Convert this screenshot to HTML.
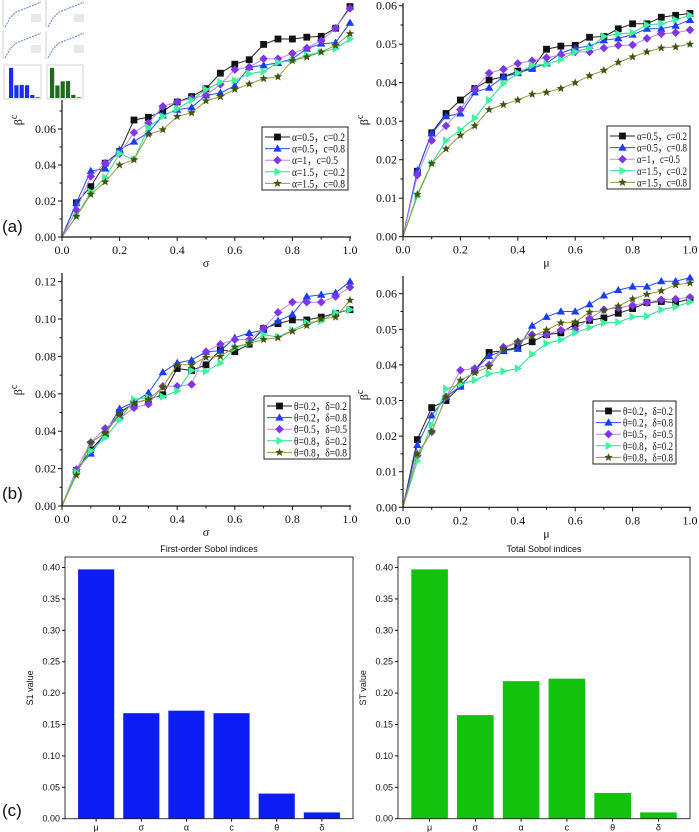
<!DOCTYPE html>
<html><head><meta charset="utf-8">
<style>
html,body{margin:0;padding:0;background:#fff;}
svg{display:block;}
.tk{font-family:"Liberation Serif",serif;font-size:12px;fill:#111;}
.lg{font-family:"Liberation Serif",serif;font-size:11.5px;fill:#111;}
.mp{font-family:"Liberation Sans",sans-serif;font-size:9px;fill:#111;}
.pl{font-family:"Liberation Sans",sans-serif;font-size:17px;fill:#111;}
</style></head>
<body>
<svg id="fig" width="699" height="832" viewBox="0 0 699 832" xmlns="http://www.w3.org/2000/svg"></svg>
<script>
// ---- data ----
const xVals = [0,0.05,0.1,0.15,0.2,0.25,0.3,0.35,0.4,0.45,0.5,0.55,0.6,0.65,0.7,0.75,0.8,0.85,0.9,0.95,1.0];
const xTicks = [0,0.2,0.4,0.6,0.8,1.0];
const legendA = ["α=0.5，c=0.2","α=0.5，c=0.8","α=1，c=0.5","α=1.5，c=0.2","α=1.5，c=0.8"];
const legendB = ["θ=0.2，δ=0.2","θ=0.2，δ=0.8","θ=0.5，δ=0.5","θ=0.8，δ=0.2","θ=0.8，δ=0.8"];

const aSig1 = [0,0.019,0.028,0.041,0.0475,0.065,0.0665,0.070,0.075,0.078,0.0824,0.091,0.096,0.0985,0.107,0.110,0.110,0.111,0.1115,0.116,0.128];
const aSig2 = [0,0.019,0.0367,0.038,0.0485,0.053,0.058,0.0675,0.0707,0.072,0.0787,0.080,0.084,0.0944,0.0954,0.0967,0.099,0.1046,0.1074,0.108,0.119];
const aSig3 = [0,0.015,0.0337,0.041,0.0463,0.058,0.0633,0.0726,0.075,0.077,0.0787,0.0848,0.093,0.0944,0.099,0.099,0.102,0.105,0.109,0.116,0.127];
const aSig4 = [0,0.0115,0.025,0.033,0.0463,0.043,0.0607,0.067,0.0713,0.076,0.0819,0.086,0.087,0.0907,0.092,0.097,0.098,0.101,0.1028,0.1046,0.110];
const aSig5 = [0,0.0115,0.0237,0.0306,0.040,0.043,0.057,0.0596,0.067,0.069,0.0756,0.078,0.082,0.085,0.088,0.089,0.098,0.100,0.1028,0.1065,0.113];

const aMu1 = [0,0.017,0.027,0.032,0.0355,0.0385,0.0407,0.0415,0.043,0.0437,0.0487,0.0495,0.0497,0.0518,0.052,0.054,0.0553,0.0553,0.057,0.0575,0.058];
const aMu2 = [0,0.0172,0.0268,0.0313,0.032,0.0375,0.0387,0.0415,0.0425,0.0437,0.045,0.0477,0.049,0.0495,0.051,0.0515,0.0525,0.054,0.054,0.0548,0.0563];
const aMu3 = [0,0.016,0.025,0.0288,0.033,0.0383,0.0425,0.0435,0.045,0.0457,0.0465,0.0472,0.048,0.048,0.049,0.0497,0.0498,0.0515,0.0527,0.053,0.0537];
const aMu4 = [0,0.0105,0.019,0.025,0.0277,0.0308,0.0355,0.0398,0.0425,0.0445,0.0448,0.046,0.048,0.049,0.052,0.0527,0.053,0.055,0.0553,0.0563,0.0575];
const aMu5 = [0,0.011,0.019,0.0228,0.0263,0.0288,0.033,0.0343,0.0355,0.037,0.0375,0.0385,0.040,0.0418,0.0432,0.0453,0.0467,0.048,0.049,0.0493,0.050];

const bSig1 = [0,0.019,0.030,0.0385,0.050,0.055,0.057,0.0595,0.0735,0.0725,0.0755,0.0835,0.0825,0.0865,0.095,0.0975,0.0995,0.0995,0.101,0.103,0.105];
const bSig2 = [0,0.0195,0.028,0.039,0.052,0.0555,0.0605,0.0715,0.0765,0.078,0.0825,0.083,0.090,0.0925,0.094,0.099,0.1025,0.112,0.113,0.114,0.120];
const bSig3 = [0,0.0195,0.034,0.0415,0.047,0.0525,0.0545,0.064,0.064,0.065,0.0825,0.0865,0.089,0.089,0.095,0.1035,0.109,0.109,0.109,0.112,0.117];
const bSig4 = [0,0.018,0.0295,0.0365,0.046,0.057,0.058,0.0585,0.0615,0.0725,0.072,0.0765,0.0845,0.087,0.0915,0.0905,0.094,0.098,0.099,0.1035,0.105];
const bSig5 = [0,0.0165,0.034,0.039,0.049,0.055,0.057,0.0635,0.0755,0.0755,0.0795,0.080,0.085,0.087,0.089,0.090,0.0935,0.0965,0.100,0.101,0.110];

const bMu1 = [0,0.019,0.028,0.030,0.034,0.0385,0.0435,0.044,0.045,0.0465,0.0485,0.049,0.0515,0.0525,0.0532,0.0545,0.0558,0.0575,0.0578,0.0575,0.0585];
const bMu2 = [0,0.0175,0.0258,0.031,0.034,0.0385,0.0425,0.044,0.0445,0.051,0.0535,0.055,0.055,0.057,0.0595,0.061,0.062,0.062,0.0635,0.0635,0.0645];
const bMu3 = [0,0.0145,0.0212,0.031,0.0385,0.039,0.040,0.045,0.0465,0.0485,0.0485,0.0498,0.050,0.053,0.0555,0.056,0.0567,0.0575,0.0583,0.0585,0.059];
const bMu4 = [0,0.013,0.0232,0.0333,0.0345,0.0357,0.0375,0.0382,0.039,0.043,0.046,0.047,0.049,0.0505,0.0518,0.052,0.0535,0.0537,0.0555,0.0563,0.0577];
const bMu5 = [0,0.015,0.0213,0.031,0.0357,0.0378,0.0395,0.0445,0.0465,0.048,0.0498,0.0518,0.052,0.0548,0.0553,0.0565,0.0585,0.0598,0.0608,0.0625,0.063];

const sobolCats = ["μ","σ","α","c","θ","δ"];
const s1Values = [0.397,0.168,0.172,0.168,0.040,0.010];
const stValues = [0.397,0.165,0.219,0.223,0.041,0.010];
const barTicks = [0,0.05,0.10,0.15,0.20,0.25,0.30,0.35,0.40];
const ticksA1 = [0,0.02,0.04,0.06,0.08,0.10,0.12];
const ticksA2 = [0,0.01,0.02,0.03,0.04,0.05,0.06];
const ticksB1 = [0,0.02,0.04,0.06,0.08,0.10,0.12];
const ticksB2 = [0,0.01,0.02,0.03,0.04,0.05,0.06];

// ---- drawing ----
const NS="http://www.w3.org/2000/svg";
const svg=document.getElementById('fig');
function mk(tag,attrs,parent){const e=document.createElementNS(NS,tag);for(const k in attrs)e.setAttribute(k,attrs[k]);(parent||svg).appendChild(e);return e;}
const styles=[
 {line:'#222',fill:'#111',shape:'square'},
 {line:'#2a4cff',fill:'#1a3cff',shape:'tri'},
 {line:'#b58af5',fill:'#7f36e8',shape:'diamond'},
 {line:'#30d898',fill:'#3cf5a0',shape:'tright'},
 {line:'#9a9a3a',fill:'#3f5510',shape:'star'}];
function marker(g,shape,x,y,fill){
  const s=3.4;let e;
  if(shape==='square')e=mk('rect',{x:x-s,y:y-s,width:2*s,height:2*s,fill:fill},g);
  else if(shape==='tri')e=mk('polygon',{points:`${x},${y-4.2} ${x+4.2},${y+3} ${x-4.2},${y+3}`,fill:fill},g);
  else if(shape==='diamond')e=mk('polygon',{points:`${x},${y-4.3} ${x+4.3},${y} ${x},${y+4.3} ${x-4.3},${y}`,fill:fill},g);
  else if(shape==='tright')e=mk('polygon',{points:`${x-3},${y-4.2} ${x+4.2},${y} ${x-3},${y+4.2}`,fill:fill},g);
  else{let p=[];for(let i=0;i<10;i++){const r=i%2?1.9:4.4;const a=-Math.PI/2+i*Math.PI/5;p.push((x+r*Math.cos(a)).toFixed(1)+','+(y+r*Math.sin(a)).toFixed(1));}
    e=mk('polygon',{points:p.join(' '),fill:fill},g);}
  return e;
}
function linePanel(id,cfg,series,ticks,legend,xname){
  const g=mk('g',{});
  
  
  const X=v=>cfg.x0+(cfg.x1-cfg.x0)*v;
  const Y=v=>cfg.y0-cfg.k*v;
  series.forEach((arr,si)=>{
    const st=styles[si];
    const sg=mk('g',{},g);
    
    
    mk('polyline',{points:arr.map((v,i)=>X(xVals[i]).toFixed(1)+','+Y(v).toFixed(1)).join(' '),fill:'none',stroke:st.line,'stroke-width':1},sg);
    arr.forEach((v,i)=>{if(i>0){const m=marker(sg,st.shape,X(xVals[i]),Y(v),st.fill);}});
  });
  const ax=mk('g',{},g);
  
  
  mk('line',{x1:cfg.x0,y1:cfg.y0,x2:cfg.x1+1,y2:cfg.y0,stroke:'#111','stroke-width':1.2},ax);
  mk('line',{x1:cfg.x0,y1:cfg.y0,x2:cfg.x0,y2:cfg.top,stroke:'#111','stroke-width':1.2},ax);
  xTicks.forEach(t=>{mk('line',{x1:X(t),y1:cfg.y0,x2:X(t),y2:cfg.y0+4,stroke:'#111'},ax);
    const tx=mk('text',{x:X(t),y:cfg.y0+17,'text-anchor':'middle',class:'tk'},ax);tx.textContent=t.toFixed(1);
    });
  for(let t=0.1;t<1;t+=0.2){mk('line',{x1:X(t),y1:cfg.y0,x2:X(t),y2:cfg.y0+2.5,stroke:'#111'},ax);}
  ticks.forEach((t,i)=>{const y=Y(t);if(y<cfg.top-1)return;
    mk('line',{x1:cfg.x0-4,y1:y,x2:cfg.x0,y2:y,stroke:'#111'},ax);
    const tx=mk('text',{x:cfg.x0-6,y:y+4,'text-anchor':'end',class:'tk'},ax);tx.textContent=t.toFixed(2);
    
    if(i<ticks.length-1){const ym=Y((t+ticks[i+1])/2);if(ym>=cfg.top)mk('line',{x1:cfg.x0-2.5,y1:ym,x2:cfg.x0,y2:ym,stroke:'#111'},ax);}
  });
  const xl=mk('text',{x:(cfg.x0+cfg.x1)/2,y:cfg.y0+30,'text-anchor':'middle',class:'tk','font-size':'13'},g);xl.textContent=xname;
  
  const yl=mk('text',{x:0,y:0,transform:`translate(${cfg.ylx},${cfg.ylab}) rotate(-90)`,'text-anchor':'middle',class:'tk','font-size':'14'},g);
  yl.textContent='β';const sup=mk('tspan',{dy:-5,'font-size':'10'},yl);sup.textContent='c';
  
  const lg=mk('g',{},g);
  
  
  mk('rect',{x:cfg.lx,y:cfg.ly,width:cfg.lw,height:63,fill:'#fff',stroke:'#222','stroke-width':1},lg);
  legend.forEach((name,i)=>{const y=cfg.ly+10+i*11.6;const st=styles[i];
    const e=mk('g',{},lg);
    
    
    mk('line',{x1:cfg.lx+3,y1:y,x2:cfg.lx+28,y2:y,stroke:st.line},e);
    marker(e,st.shape,cfg.lx+15.5,y,st.fill);
    const len=name.length<11?(cfg.lw-40):(cfg.lw-33);
    const t=mk('text',{x:cfg.lx+30,y:y+4,class:'lg',textLength:len,lengthAdjust:'spacingAndGlyphs'},e);t.textContent=name;});
}
linePanel('chart-a-sigma',{x0:62,x1:350,y0:237,k:1800,top:2,ylab:120,ylx:22,lx:262,ly:127,lw:86},[aSig1,aSig2,aSig3,aSig4,aSig5],ticksA1,legendA,'σ');
linePanel('chart-a-mu',{x0:403,x1:690,y0:236.7,k:3850,top:3,ylab:120,ylx:368,lx:607,ly:126,lw:83},[aMu1,aMu2,aMu3,aMu4,aMu5],ticksA2,legendA,'μ');
linePanel('chart-b-sigma',{x0:62,x1:350,y0:506,k:1870,top:273,ylab:390,ylx:22,lx:264,ly:396,lw:86},[bSig1,bSig2,bSig3,bSig4,bSig5],ticksB1,legendB,'σ');
linePanel('chart-b-mu',{x0:403,x1:690,y0:507.3,k:3560,top:276,ylab:395,ylx:368,lx:593,ly:401,lw:83},[bMu1,bMu2,bMu3,bMu4,bMu5],ticksB2,legendB,'μ');

function barPanel(id,cfg,vals,color,title,ylabel){
  const g=mk('g',{});
  
  
  const Y=v=>cfg.y0-cfg.k*v;
  const pitch=(cfg.x1-cfg.x0)/6.38;
  const X=i=>cfg.x0+pitch*(0.69+i);
  vals.forEach((v,i)=>{const r=mk('rect',{x:X(i)-0.4*pitch,y:Y(v),width:0.8*pitch,height:cfg.y0-Y(v),fill:color},g);
    
    mk('line',{x1:X(i),y1:cfg.y0,x2:X(i),y2:cfg.y0+3,stroke:'#111'},g);
    const t=mk('text',{x:X(i),y:cfg.y0+12,'text-anchor':'middle',class:'mp'},g);t.textContent=sobolCats[i];
    });
  mk('rect',{x:cfg.x0,y:cfg.top,width:cfg.x1-cfg.x0,height:cfg.y0-cfg.top,fill:'none',stroke:'#222','stroke-width':0.9},g);
  barTicks.forEach(t=>{const y=Y(t);mk('line',{x1:cfg.x0-3,y1:y,x2:cfg.x0,y2:y,stroke:'#111'},g);
    const tx=mk('text',{x:cfg.x0-5,y:y+3,'text-anchor':'end',class:'mp'},g);tx.textContent=t.toFixed(2);
    });
  const tt=mk('text',{x:(cfg.x0+cfg.x1)/2,y:cfg.top-5,'text-anchor':'middle',class:'mp','font-size':'11'},g);tt.textContent=title;
  
  const yl=mk('text',{x:0,y:0,transform:`translate(${cfg.x0-32},${(cfg.top+cfg.y0)/2}) rotate(-90)`,'text-anchor':'middle',class:'mp'},g);yl.textContent=ylabel;
  
}
barPanel('chart-first-order-sobol',{x0:65,x1:353,y0:818.7,top:557,k:628},s1Values,'#0c1cf5','First-order Sobol indices','S1 value');
barPanel('chart-total-sobol',{x0:398,x1:690,y0:818.7,top:557,k:628},stValues,'#12c20c','Total Sobol indices','ST value');

[['(a)',2,232],['(b)',2,499],['(c)',2,816]].forEach(p=>{const t=mk('text',{x:p[1],y:p[2],class:'pl'});t.textContent=p[0];
  });

const th=mk('g',{});


mk('rect',{x:0,y:0,width:86,height:100,fill:'#fff'},th);
[[2,0],[45,0],[2,31],[45,31]].forEach(c=>{
  mk('polyline',{points:`${c[0]+3},${c[1]+27} ${c[0]+8},${c[1]+18} ${c[0]+14},${c[1]+12} ${c[0]+22},${c[1]+9} ${c[0]+32},${c[1]+5} ${c[0]+39},${c[1]+2}`,fill:'none',stroke:'#6f8fd8','stroke-width':1.2,'stroke-dasharray':'2,1'},th);
  mk('line',{x1:c[0]+1,y1:c[1],x2:c[0]+1,y2:c[1]+28,stroke:'#999','stroke-width':0.5},th);
  mk('rect',{x:c[0]+29,y:c[1]+14,width:10,height:8,fill:'#e8e8e8'},th);
});
mk('rect',{x:4,y:65,width:37,height:34,fill:'none',stroke:'#bbb','stroke-width':0.6},th);
mk('rect',{x:47,y:65,width:36,height:34,fill:'none',stroke:'#bbb','stroke-width':0.6},th);
const thS1=[0.397,0.168,0.172,0.168,0.04,0.01];
thS1.forEach((v,i)=>mk('rect',{x:9+i*5.3,y:98-v*76,width:4.2,height:v*76,fill:'#1a2cf0'},th));
stValues.forEach((v,i)=>mk('rect',{x:50+i*5.3,y:98-v*76,width:4.2,height:v*76,fill:'#1e6a1e'},th));
</script>
</body></html>
